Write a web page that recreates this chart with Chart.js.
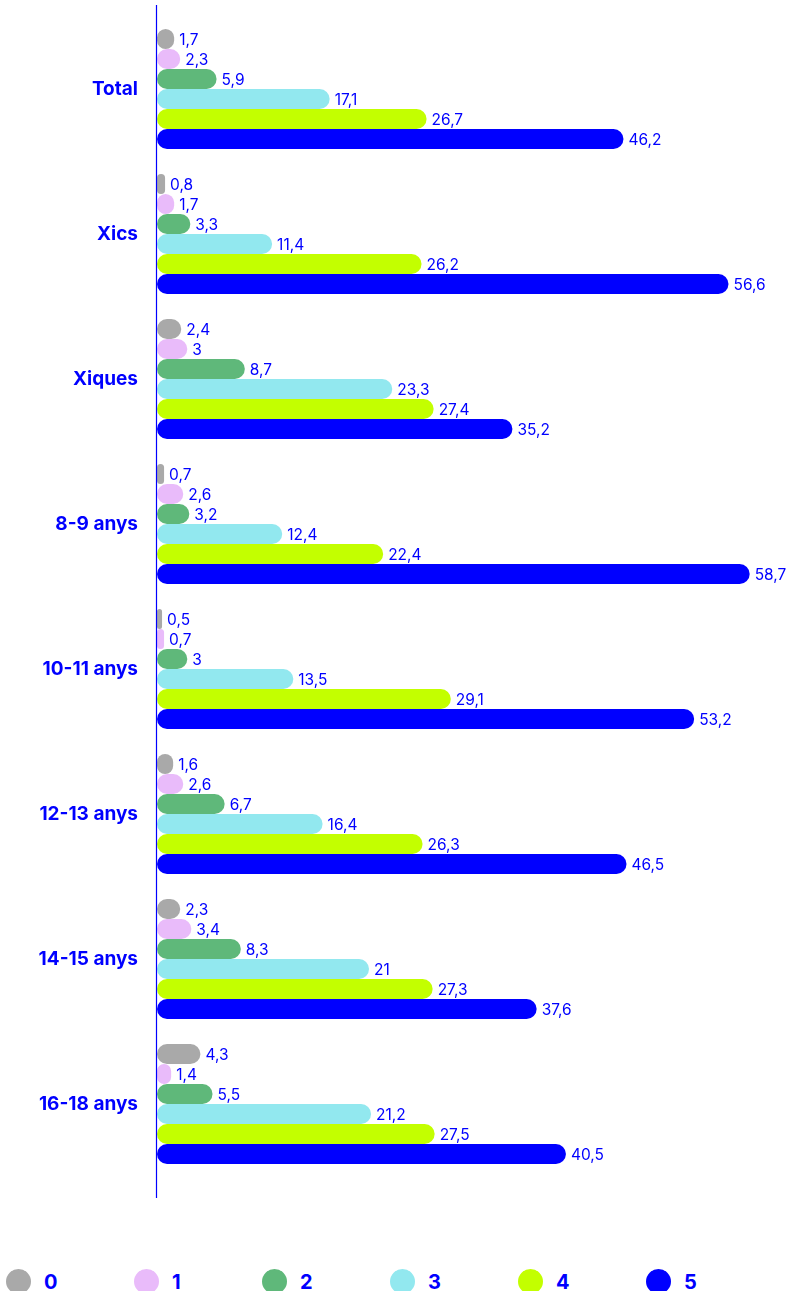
<!DOCTYPE html>
<html>
<head>
<meta charset="utf-8">
<script src="https://cdn.jsdelivr.net/npm/chart.js@4/dist/chart.umd.min.js"></script>
<style>
  html, body { margin: 0; padding: 0; background: #fff; overflow: hidden; }
  #wrap { position: relative; width: 789px; height: 1291px; }
  #box { position: absolute; left: 0; top: 0; width: 789px; height: 1200px; }
  #legend { position: absolute; left: 6px; top: 1269px; display: flex; }
  .item { width: 128px; display: flex; align-items: center; }
  .dot { width: 25px; height: 25px; border-radius: 50%; }
  .lbl { margin-left: 13px; font: bold 20px Inter, sans-serif; color: #0000ff; }
</style>
</head>
<body>
<div id="wrap">
  <div id="box"><canvas id="myChart"></canvas></div>
  <div id="legend"></div>
</div>
<script>
const groups = ['Total', 'Xics', 'Xiques', '8-9 anys', '10-11 anys', '12-13 anys', '14-15 anys', '16-18 anys']
const scores = ['0', '1', '2', '3', '4', '5']

const s0 = [1.7, 0.8, 2.4, 0.7, 0.5, 1.6, 2.3, 4.3]
const s1 = [2.3, 1.7, 3, 2.6, 0.7, 2.6, 3.4, 1.4]
const s2 = [5.9, 3.3, 8.7, 3.2, 3, 6.7, 8.3, 5.5]
const s3 = [17.1, 11.4, 23.3, 12.4, 13.5, 16.4, 21, 21.2]
const s4 = [26.7, 26.2, 27.4, 22.4, 29.1, 26.3, 27.3, 27.5]
const s5 = [46.2, 56.6, 35.2, 58.7, 53.2, 46.5, 37.6, 40.5]

const colors = ['#a9a9a9', '#e9bbfa', '#5fb87a', '#92e8ef', '#c3ff00', '#0000ff']
const blue = '#0000ff'

const series = [s0, s1, s2, s3, s4, s5]

// value labels at the end of each bar, with comma decimals
const valueLabels = {
    id: 'valueLabels',
    afterDatasetsDraw(chart) {
        const c = chart.ctx
        c.save()
        c.font = '15.5px Inter, sans-serif'
        c.fillStyle = blue
        c.textAlign = 'left'
        c.textBaseline = 'middle'
        chart.data.datasets.forEach((ds, i) => {
            chart.getDatasetMeta(i).data.forEach((bar, j) => {
                const txt = String(ds.data[j]).replace('.', ',')
                c.fillText(txt, bar.x + 5, bar.y + 1)
            })
        })
        c.restore()
    }
}

// vertical axis line, a bit longer than the plot area
const axisLine = {
    id: 'axisLine',
    afterDraw(chart) {
        const c = chart.ctx
        const x = chart.chartArea.left - 0.5
        c.save()
        c.strokeStyle = blue
        c.lineWidth = 1.2
        c.beginPath()
        c.moveTo(x, 5)
        c.lineTo(x, 1198)
        c.stroke()
        c.restore()
    }
}

const ctx = document.getElementById('myChart')

new Chart(ctx, {
    type: 'bar',
    data: {
        labels: groups,
        datasets: series.map((d, i) => ({
            label: scores[i],
            data: d,
            backgroundColor: colors[i],
            borderRadius: 10,
            borderSkipped: false,
            barPercentage: 1,
            categoryPercentage: 0.8276
        }))
    },
    options: {
        indexAxis: 'y',
        responsive: true,
        maintainAspectRatio: false,
        animation: false,
        layout: {
            padding: { top: 16.5, bottom: 23.5, left: 0, right: 6 }
        },
        plugins: {
            legend: { display: false },
            tooltip: { enabled: false }
        },
        scales: {
            x: {
                display: false,
                min: 0,
                max: 62
            },
            y: {
                afterFit(scale) {
                    scale.width = 157
                    // labels sit mid-category, no extra room needed above/below
                    scale.paddingTop = 0
                    scale.paddingBottom = 0
                },
                grid: { display: false, drawTicks: false },
                border: { display: false },
                ticks: {
                    padding: 19,
                    color: blue,
                    font: { family: 'Inter', size: 19, weight: 'bold' }
                }
            }
        }
    },
    plugins: [valueLabels, axisLine]
});

// legend row under the chart
const legend = document.getElementById('legend')
scores.forEach((s, i) => {
    const item = document.createElement('div')
    item.className = 'item'
    item.innerHTML = '<div class="dot" style="background:' + colors[i] + '"></div><span class="lbl">' + s + '</span>'
    legend.appendChild(item)
})
</script>
</body>
</html>
